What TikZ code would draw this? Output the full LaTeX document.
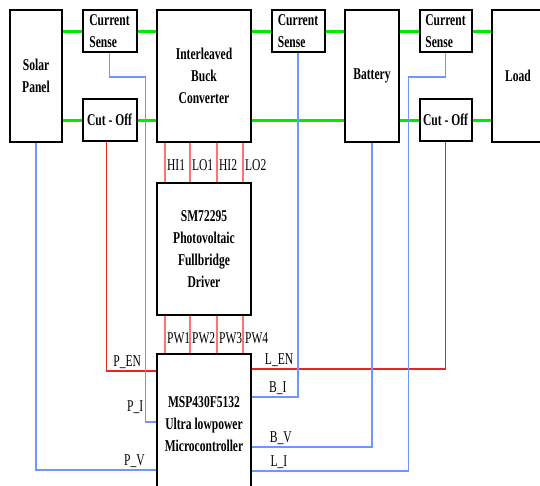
\documentclass[tikz,border=0pt]{standalone}
\usepackage{fontspec}
\setmainfont{Liberation Serif}[FakeStretch=0.7]
\usetikzlibrary{positioning,backgrounds}
\definecolor{pwrgreen}{RGB}{0,235,0}
\definecolor{sigblue}{RGB}{110,150,255}
\definecolor{enred}{RGB}{235,35,35}
\definecolor{gatered}{RGB}{255,115,115}

\begin{document}
\begin{tikzpicture}[x=1pt,y=1pt,node distance=18.5pt,
  every node/.style={font=\fontsize{16.5}{22}\selectfont},
  blk/.style={draw,line width=2pt,inner sep=0pt,align=center,
    font=\fontsize{16.5}{22}\selectfont\bfseries},
  tall/.style={blk,minimum width=94pt,minimum height=132pt},
  small/.style={blk,minimum width=54pt,minimum height=42pt},
  pwr/.style={line width=3pt,pwrgreen},
  sig/.style={line width=1.5pt,sigblue},
  en/.style={line width=1.2pt,enred},
  gate/.style={line width=1.2pt,gatered},
  lbl/.style={inner sep=1.5pt,text=black}]
\useasboundingbox (0,0) rectangle (540,-485);

% power path
\node[tall,minimum width=52pt,anchor=north west] (solar) at (9,-9) {Solar\\Panel};
\node[small,right=of solar.north east,anchor=north west,align=left] (csA) {Current\\Sense};
\node[small,below=45pt of csA] (cutA) {Cut - Off};
\node[tall,right=of csA.north east,anchor=north west] (buck) {Interleaved\\Buck\\Converter};
\node[small,minimum width=53pt,right=of buck.north east,anchor=north west,align=left] (csB) {Current\\Sense};
\node[tall,minimum width=54pt,right=of csB.north east,anchor=north west] (batt) {Battery};
\node[small,minimum width=52pt,right=of batt.north east,anchor=north west,align=left] (csC) {Current\\Sense};
\node[small,minimum width=52pt,below=45pt of csC] (cutC) {Cut - Off};
\node[tall,minimum width=52pt,right=of csC.north east,anchor=north west] (load) {Load};

% control
\node[tall,below=39pt of buck] (drv) {SM72295\\Photovoltaic\\Fullbridge\\Driver};
\node[tall,minimum height=140pt,below=37pt of drv] (mcu) {MSP430F5132\\Ultra lowpower\\Microcontroller};

\begin{scope}[on background layer]
\draw[pwr] (solar.east |- csA.west) -- (csA.west);
\draw[pwr] (solar.east |- cutA.west) -- (cutA.west);
\draw[pwr] (csA.east) -- (csA.east -| buck.west);
\draw[pwr] (cutA.east) -- (cutA.east -| buck.west);
\draw[pwr] (buck.east |- csB.west) -- (csB.west);
\draw[pwr] (csB.east) -- (csB.east -| batt.west);
\draw[pwr] (buck.east |- cutC.west) -- (batt.west |- cutC.west);
\draw[pwr] (batt.east |- csC.west) -- (csC.west);
\draw[pwr] (batt.east |- cutC.west) -- (cutC.west);
\draw[pwr] (csC.east) -- (csC.east -| load.west);
\draw[pwr] (cutC.east) -- (cutC.east -| load.west);

% gate drive
\foreach \dx/\name in {9/HI1,34/LO1,61/HI2,87/LO2}
  \draw[gate] ([xshift=\dx pt]buck.south west) -- ([xshift=\dx pt]drv.north west)
    node[lbl,midway,anchor=west,yshift=-3pt]{\name};
\foreach \dx/\name in {9/PW1,34/PW2,61/PW3,87/PW4}
  \draw[gate] ([xshift=\dx pt]drv.south west) -- ([xshift=\dx pt]mcu.north west)
    node[lbl,midway,anchor=west,yshift=-4pt]{\name};

% sensing and enables
\draw[en] ([xshift=-3pt]cutA.south) |- ([yshift=-18pt]mcu.north west) node[lbl,pos=0.71,above]{P\_EN};
\draw[sig] (csA.south) |- ++(36pt,-24pt) |- ([yshift=-69pt]mcu.north west) node[lbl,pos=0.478,left]{P\_I};
\draw[sig] (solar.south) |- ([yshift=-117pt]mcu.north west) node[lbl,pos=0.91,above]{P\_V};
\draw[en] (cutC.south) |- ([yshift=-16pt]mcu.north east) node[lbl,pos=0.93,above]{L\_EN};
\draw[sig] (csB.south) |- ([yshift=-44pt]mcu.north east) node[lbl,pos=0.72,above]{B\_I};
\draw[sig] (batt.south) |- ([yshift=-94pt]mcu.north east) node[lbl,pos=0.88,above]{B\_V};
\draw[sig] (csC.south) |- ++(-37pt,-24pt) |- ([yshift=-118pt]mcu.north east) node[lbl,pos=0.914,above]{L\_I};
\end{scope}
\end{tikzpicture}
\end{document}
